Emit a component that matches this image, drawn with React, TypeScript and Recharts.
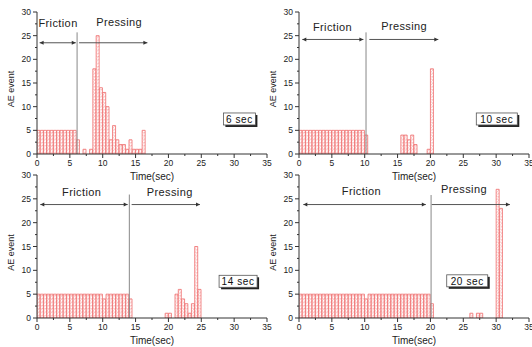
import React from 'react';
import { ComposedChart, Bar, XAxis, YAxis, ReferenceLine, ReferenceDot } from 'recharts';

// AE event counts per 0.5 s bin, starting at t = 0 s
const counts6 = [5, 5, 5, 5, 5, 5, 5, 5, 5, 5, 5, 5, 3, 0, 1, 0, 1, 18, 25, 14, 13, 10, 3, 6, 3, 2, 2, 1, 3, 1, 1, 1, 5];
const counts10 = [5, 5, 5, 5, 5, 5, 5, 5, 5, 5, 5, 5, 5, 5, 5, 5, 5, 5, 5, 5, 4, 0, 0, 0, 0, 0, 0, 0, 0, 0, 0, 4, 4, 3, 4, 2, 0, 0, 0, 1, 18];
const counts14 = [5, 5, 5, 5, 5, 5, 5, 5, 5, 5, 5, 5, 5, 5, 5, 5, 5, 5, 5, 5, 4, 5, 5, 5, 5, 5, 5, 5, 4, 0, 0, 0, 0, 0, 0, 0, 0, 0, 0, 1, 1, 0, 5, 6, 4, 3, 1, 3, 15, 6];
const counts20 = [5, 5, 5, 5, 5, 5, 5, 5, 5, 5, 5, 5, 5, 5, 5, 5, 5, 5, 5, 5, 4, 5, 5, 5, 5, 5, 5, 5, 5, 5, 5, 5, 5, 5, 5, 5, 5, 5, 5, 5, 3, 0, 0, 0, 0, 0, 0, 0, 0, 0, 0, 0, 1, 0, 1, 1, 0, 0, 0, 0, 27, 23];

const BIN_COUNT = 70; // bins covering 0–35 s
const BIN_WIDTH = 0.5; // seconds
const timeTicks = [0, 2.5, 5, 7.5, 10, 12.5, 15, 17.5, 20, 22.5, 25, 27.5, 30, 32.5, 35];
const eventTicks = [0, 2.5, 5, 7.5, 10, 12.5, 15, 17.5, 20, 22.5, 25, 27.5, 30];
const tagLabels = ['6 sec', '10 sec', '14 sec', '20 sec'];

const FONT = '"Liberation Sans", Arial, sans-serif';
const AXIS = '#333';

const buildTable = (counts: number[]) =>
  Array.from({ length: BIN_COUNT }, (_, i) => ({ t: (i + 0.5) * BIN_WIDTH, events: counts[i] ?? 0 }));

const XTick = (p: any) => {
  const { x, y, payload } = p;
  const v = payload.value;
  const major = v % 5 === 0;
  return (
    <g>
      <line x1={x} x2={x} y1={y} y2={y + (major ? 4 : 2)} stroke={AXIS} strokeWidth={1} />
      {major && (
        <text x={x} y={y + 12} textAnchor="middle" fontSize={8.5} fill="#222" fontFamily={FONT}>
          {v}
        </text>
      )}
    </g>
  );
};

const YTick = (p: any) => {
  const { x, y, payload } = p;
  const v = payload.value;
  const major = v % 5 === 0;
  return (
    <g>
      <line x1={x - (major ? 4 : 2)} x2={x} y1={y} y2={y} stroke={AXIS} strokeWidth={1} />
      {major && (
        <text x={x - 6} y={y + 3} textAnchor="end" fontSize={8.5} fill="#222" fontFamily={FONT}>
          {v}
        </text>
      )}
    </g>
  );
};

const YLabel = (p: any) => {
  const vb = p.viewBox || { x: 0, y: 0, width: 0, height: 0 };
  const cx = vb.x + 13.5;
  const cy = vb.y + vb.height / 2 + 6;
  return (
    <text transform={`translate(${cx},${cy}) rotate(-90)`} textAnchor="middle" fontSize={9} fill="#222" fontFamily={FONT}>
      AE event
    </text>
  );
};

const XLabel = (p: any) => {
  const vb = p.viewBox || { x: 0, y: 0, width: 0, height: 0 };
  return (
    <text x={vb.x + vb.width / 2} y={vb.y + 26} textAnchor="middle" fontSize={10} fill="#222" fontFamily={FONT}>
      Time(sec)
    </text>
  );
};

const arrowShape = (both: boolean) => (p: any) => {
  const { x1, y1, x2, y2 } = p;
  const hl = 4;
  const hw = 2;
  return (
    <g>
      <line x1={x1} y1={y1} x2={x2} y2={y2} stroke="#555" strokeWidth={1} />
      <path d={`M${x2},${y2} L${x2 - hl},${y2 - hw} L${x2 - hl},${y2 + hw} Z`} fill="#333" />
      {both && <path d={`M${x1},${y1} L${x1 + hl},${y1 - hw} L${x1 + hl},${y1 + hw} Z`} fill="#333" />}
    </g>
  );
};

const textShape = (text: string) => (p: any) => (
  <text x={p.cx} y={p.cy + 4} textAnchor="middle" fontSize={11} fill="#222" fontFamily={FONT} letterSpacing={0.4}>
    {text}
  </text>
);

const tagShape = (text: string, w: number) => (p: any) => {
  const { cx, cy } = p;
  const h = 12;
  return (
    <g>
      <rect x={cx - w / 2 + 2} y={cy - h / 2 + 2} width={w} height={h} fill="#222" />
      <rect x={cx - w / 2} y={cy - h / 2} width={w} height={h} fill="#fff" stroke="#555" strokeWidth={0.8} />
      <text x={cx} y={cy + 3.8} textAnchor="middle" fontSize={10} fill="#111" fontFamily={FONT} letterSpacing={0.6}>
        {text}
      </text>
    </g>
  );
};

type Ann = {
  split: number;
  lineTop: number;
  arrowY: number;
  friction: [number, number];
  pressing: [number, number];
  frictionLabel: [number, number];
  pressingLabel: [number, number];
  tag: [number, number];
  tagW: number;
};

const annotations: Ann[] = [
  { split: 6.1, lineTop: 25.7, arrowY: 23.5, friction: [0.4, 5.9], pressing: [6.4, 16.8], frictionLabel: [3.2, 27.7], pressingLabel: [12.5, 27.8], tag: [30.8, 7.4], tagW: 32 },
  { split: 10.2, lineTop: 25.7, arrowY: 24.2, friction: [0.5, 9.8], pressing: [10.7, 21.2], frictionLabel: [5.1, 26.9], pressingLabel: [16, 27.1], tag: [30.1, 7.4], tagW: 41 },
  { split: 14.05, lineTop: 25.9, arrowY: 23.8, friction: [0.5, 13.8], pressing: [14.4, 24.8], frictionLabel: [6.8, 26.5], pressingLabel: [20.2, 26.4], tag: [30.6, 7.7], tagW: 38 },
  { split: 20.1, lineTop: 25.8, arrowY: 23.8, friction: [0.66, 19.3], pressing: [20.2, 32.1], frictionLabel: [9.5, 26.6], pressingLabel: [25.1, 27], tag: [25.6, 7.8], tagW: 41 },
];

const seriesList = [counts6, counts10, counts14, counts20];

const Panel = ({ idx, width, height, xAxisHeight }: { idx: number; width: number; height: number; xAxisHeight: number }) => {
  const data = buildTable(seriesList[idx]);
  const a = annotations[idx];
  const pid = `hatch${idx}`;
  return (
    <ComposedChart
      width={width}
      height={height}
      data={data}
      margin={{ top: 12, right: width - 267, left: 0, bottom: 0 }}
      barCategoryGap={0}
      barGap={0}
    >
      <defs>
        <pattern id={pid} patternUnits="userSpaceOnUse" width={3.3} height={3.3}>
          <rect width={3.3} height={3.3} fill="#fff" />
          <line x1={0} y1={0} x2={3.3} y2={0} stroke="#f39a9a" strokeWidth={0.7} />
          <line x1={0} y1={3.3} x2={3.3} y2={0} stroke="#f6b0b0" strokeWidth={0.6} />
        </pattern>
      </defs>
      <XAxis
        dataKey="t"
        type="number"
        domain={[0, 35]}
        allowDataOverflow
        ticks={timeTicks}
        interval={0}
        tickSize={0}
        tickMargin={0}
        tickLine={false}
        tick={<XTick />}
        axisLine={{ stroke: AXIS, strokeWidth: 1 }}
        height={xAxisHeight}
        label={<XLabel />}
      />
      <YAxis
        type="number"
        domain={[0, 30]}
        allowDataOverflow
        ticks={eventTicks}
        interval={0}
        tickSize={0}
        tickMargin={0}
        tickLine={false}
        tick={<YTick />}
        axisLine={{ stroke: AXIS, strokeWidth: 1 }}
        width={37}
        label={<YLabel />}
      />
      <Bar
        dataKey="events"
        fill={`url(#${pid})`}
        stroke="#ef6b6b"
        strokeWidth={0.8}
        isAnimationActive={false}
      />
      <ReferenceLine
        segment={[{ x: a.split, y: 0 }, { x: a.split, y: a.lineTop }]}
        stroke="#888"
        strokeWidth={1}
      />
      <ReferenceLine
        segment={[{ x: a.friction[0], y: a.arrowY }, { x: a.friction[1], y: a.arrowY }]}
        shape={arrowShape(true)}
        ifOverflow="visible"
      />
      <ReferenceLine
        segment={[{ x: a.pressing[0], y: a.arrowY }, { x: a.pressing[1], y: a.arrowY }]}
        shape={arrowShape(false)}
        ifOverflow="visible"
      />
      <ReferenceDot x={a.frictionLabel[0]} y={a.frictionLabel[1]} r={0} shape={textShape('Friction')} ifOverflow="visible" />
      <ReferenceDot x={a.pressingLabel[0]} y={a.pressingLabel[1]} r={0} shape={textShape('Pressing')} ifOverflow="visible" />
      <ReferenceDot x={a.tag[0]} y={a.tag[1]} r={0} shape={tagShape(tagLabels[idx], a.tagW)} ifOverflow="visible" />
    </ComposedChart>
  );
};

export default function App() {
  return (
    <div style={{ position: 'absolute', left: 0, top: 0, width: 532, height: 347, background: '#fff', overflow: 'hidden' }}>
      <div style={{ position: 'absolute', left: 0, top: 0 }}>
        <Panel idx={0} width={274} height={185} xAxisHeight={31} />
      </div>
      <div style={{ position: 'absolute', left: 262, top: 0 }}>
        <Panel idx={1} width={270} height={185} xAxisHeight={31} />
      </div>
      <div style={{ position: 'absolute', left: 0, top: 163 }}>
        <Panel idx={2} width={274} height={184} xAxisHeight={29} />
      </div>
      <div style={{ position: 'absolute', left: 262, top: 163 }}>
        <Panel idx={3} width={270} height={184} xAxisHeight={29} />
      </div>
    </div>
  );
}
